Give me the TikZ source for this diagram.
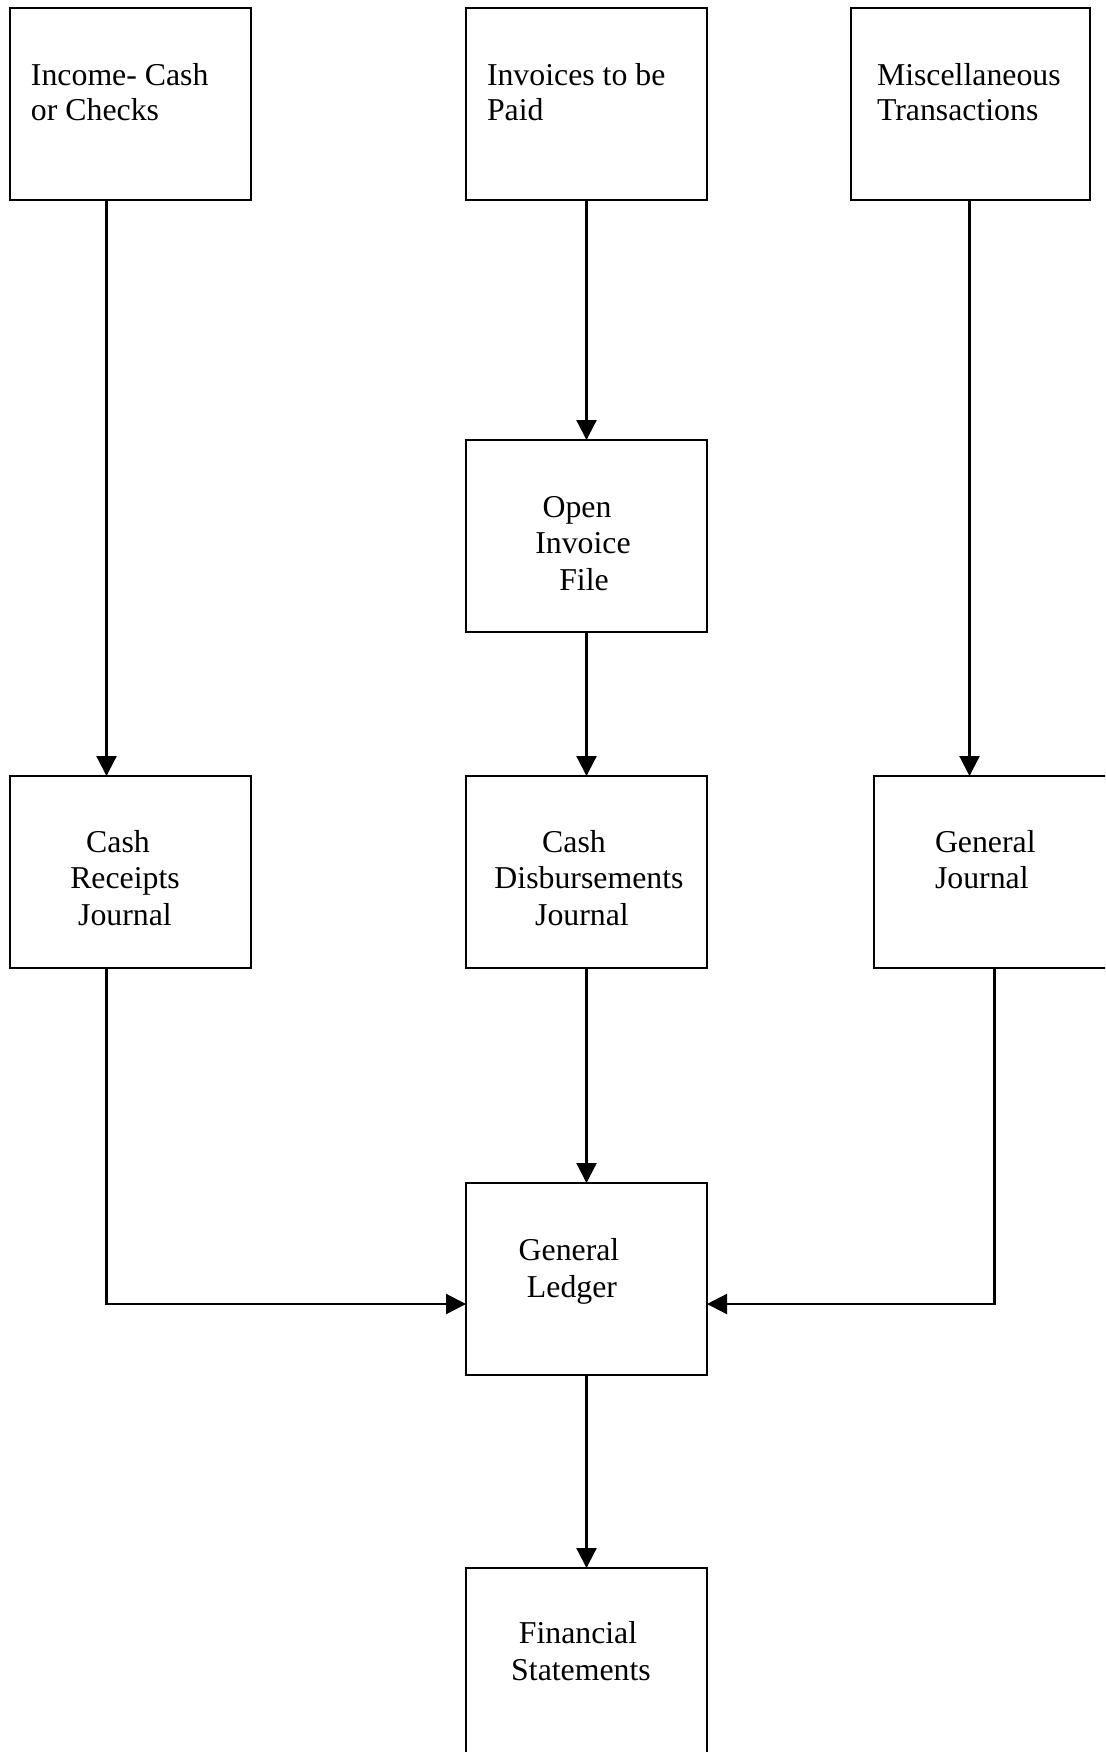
\documentclass[tikz,border=0pt]{standalone}
\usepackage{fontspec}
\setmainfont{Liberation Serif}
\usetikzlibrary{arrows.meta}
\begin{document}
\begin{tikzpicture}[x=0.5pt,y=-0.5pt,
  box/.style={draw=black,line width=1.1pt,minimum width=120.5pt,minimum height=96pt,inner sep=0pt,outer sep=0pt},
  txt/.style={inner sep=0pt,outer sep=0pt,font=\fontsize{15.9pt}{18pt}\selectfont},
  conn/.style={line width=1.1pt,-{Triangle[length=10pt,width=10pt]}}]
\useasboundingbox (0,0) rectangle (1105,1752);
\clip (0,0) rectangle (1105,1752);
% boxes
\node[box] (inc) at (130.5,104) {};
\node[box] (inv) at (586.5,104) {};
\node[box,minimum width=119.5pt] (misc) at (970.5,104) {};
\node[box] (oif) at (586.5,536) {};
\node[box] (crj) at (130.5,872) {};
\node[box] (cdj) at (586.5,872) {};
\node[box] (gj) at (994.5,872) {};
\node[box] (gl) at (586.5,1279) {};
\node[box] (fs) at (586.5,1664) {};
% texts
\node[txt,anchor=base west] (t1a) at (31,85) {Income- Cash};
\node[txt,anchor=base west] (t1b) at (31,120) {or Checks};
\node[txt,anchor=base west] (t2a) at (487,85) {Invoices to be};
\node[txt,anchor=base west] (t2b) at (487,120) {Paid};
\node[txt,anchor=base west] (t3a) at (877,85) {Miscellaneous};
\node[txt,anchor=base west] (t3b) at (877,120) {Transactions};
\node[txt,anchor=base] (t4a) at (577,517) {Open};
\node[txt,anchor=base] (t4b) at (583,553) {Invoice};
\node[txt,anchor=base] (t4c) at (584,590) {File};
\node[txt,anchor=base] (t5a) at (118,852) {Cash};
\node[txt,anchor=base] (t5b) at (125,888) {Receipts};
\node[txt,anchor=base] (t5c) at (125,925) {Journal};
\node[txt,anchor=base] (t6a) at (574,852) {Cash};
\node[txt,anchor=base] (t6b) at (589,888) {Disbursements};
\node[txt,anchor=base] (t6c) at (582,925) {Journal};
\node[txt,anchor=base west] (t7a) at (935,852) {General};
\node[txt,anchor=base west] (t7b) at (935,888) {Journal};
\node[txt,anchor=base] (t8a) at (569,1260) {General};
\node[txt,anchor=base] (t8b) at (572,1297) {Ledger};
\node[txt,anchor=base] (t9a) at (578,1643) {Financial};
\node[txt,anchor=base] (t9b) at (581,1680) {Statements};
% connectors
\draw[conn] ([xshift=-12pt]inc.south) -- ([xshift=-12pt]crj.north);
\draw[conn] (inv.south) -- (oif.north);
\draw[conn] ([xshift=-0.5pt]misc.south) -- ([xshift=-0.5pt]misc.south |- gj.north);
\draw[conn] (oif.south) -- (cdj.north);
\draw[conn] (cdj.south) -- (gl.north);
\draw[conn] (gl.south) -- (fs.north);
\draw[conn] ([xshift=-12pt]crj.south) |- ([yshift=-12.5pt]gl.west);
\draw[conn] (gj.south) |- ([yshift=-12.5pt]gl.east);
\end{tikzpicture}
\end{document}
